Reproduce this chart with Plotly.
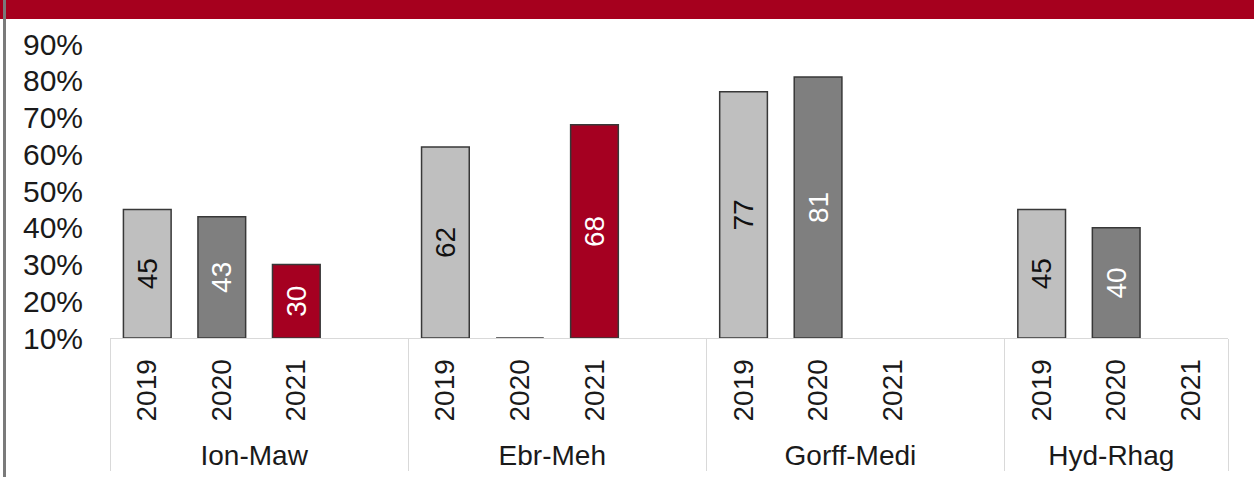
import plotly.graph_objects as go

# ---- data ----
groups = ["Ion-Maw", "Ebr-Meh", "Gorff-Medi", "Hyd-Rhag"]
years = ["2019", "2020", "2021"]
values = {
    "Ion-Maw": [45, 43, 30],
    "Ebr-Meh": [62, 10, 68],
    "Gorff-Medi": [77, 81, None],
    "Hyd-Rhag": [45, 40, None],
}
y_ticks = [10, 20, 30, 40, 50, 60, 70, 80, 90]
y_tick_labels = [f"{v}%" for v in y_ticks]

# ---- style ----
year_colors = {"2019": "#BFBFBF", "2020": "#7F7F7F", "2021": "#A50021"}
year_text = {"2019": "#111111", "2020": "#FFFFFF", "2021": "#FFFFFF"}
FONT = "Liberation Sans, Arial, sans-serif"
W, H = 1254, 477
ML, MR, MT, MB = 110, 26, 44, 139
AX_MIN, AX_MAX = y_ticks[0], y_ticks[-1]

# build multicategory x with an empty spacer slot after each group but the last
xg, xy, vals, cols, tcols, texts = [], [], [], [], [], []
for gi, g in enumerate(groups):
    for yi, yr in enumerate(years):
        v = values[g][yi]
        xg.append(g); xy.append(yr)
        vals.append(None if v is None else v - AX_MIN)
        cols.append(year_colors[yr]); tcols.append(year_text[yr])
        texts.append("" if v is None or v <= AX_MIN else str(v))
    if gi < len(groups) - 1:
        xg.append(g); xy.append(" ")
        vals.append(None); cols.append("#FFFFFF"); tcols.append("#FFFFFF"); texts.append("")

fig = go.Figure()
fig.add_trace(go.Bar(
    x=[xg, xy],
    y=vals,
    base=AX_MIN,
    width=0.64,
    marker=dict(color=cols, line=dict(color="#383838", width=1.5)),
    text=texts,
    textposition="inside",
    insidetextanchor="middle",
    textangle=-90,
    textfont=dict(family=FONT, size=28, color=tcols),
    constraintext="none",
    showlegend=False,
    hoverinfo="skip",
))

plot_h = H - MT - MB
plot_w = W - ML - MR

def py(px):  # pixel row -> paper y
    return (H - MB - px) / plot_h

def px_(x):  # pixel col -> paper x
    return (x - ML) / plot_w

fig.update_layout(
    width=W, height=H,
    margin=dict(l=ML, r=MR, t=MT, b=MB, pad=0, autoexpand=False),
    paper_bgcolor="white", plot_bgcolor="white",
    font=dict(family=FONT, size=28, color="#1A1A1A"),
    xaxis=dict(
        type="multicategory",
        automargin=False,
        tickangle=-90,
        showgrid=False, zeroline=False,
        showline=True, linecolor="#D9D9D9", linewidth=1,
        showdividers=True, dividercolor="#D9D9D9", dividerwidth=1,
        ticks="", tickfont=dict(family=FONT, size=28, color="#1A1A1A"),
        ticklabelstandoff=9,
    ),
    yaxis=dict(
        automargin=False,
        range=[AX_MIN, AX_MAX],
        tickmode="array",
        tickvals=y_ticks,
        ticktext=y_tick_labels,
        showgrid=False, zeroline=False, showline=False,
        ticks="", ticklabelstandoff=26,
        tickfont=dict(family=FONT, size=30, color="#1A1A1A"),
    ),
    shapes=[
        dict(type="rect", xref="paper", yref="paper",
             x0=px_(0), x1=px_(W), y0=py(19), y1=py(0),
             fillcolor="#A6001E", line=dict(width=0), layer="above"),
        dict(type="line", xref="paper", yref="paper",
             x0=px_(4.5), x1=px_(4.5), y0=py(H), y1=py(0),
             line=dict(color="#7A7A7A", width=3), layer="above"),
    ],
)

fig.write_html(
    "out.html",
    config={"displayModeBar": False},
    post_script="document.body.style.margin='0';document.body.style.overflow='hidden';",
)
